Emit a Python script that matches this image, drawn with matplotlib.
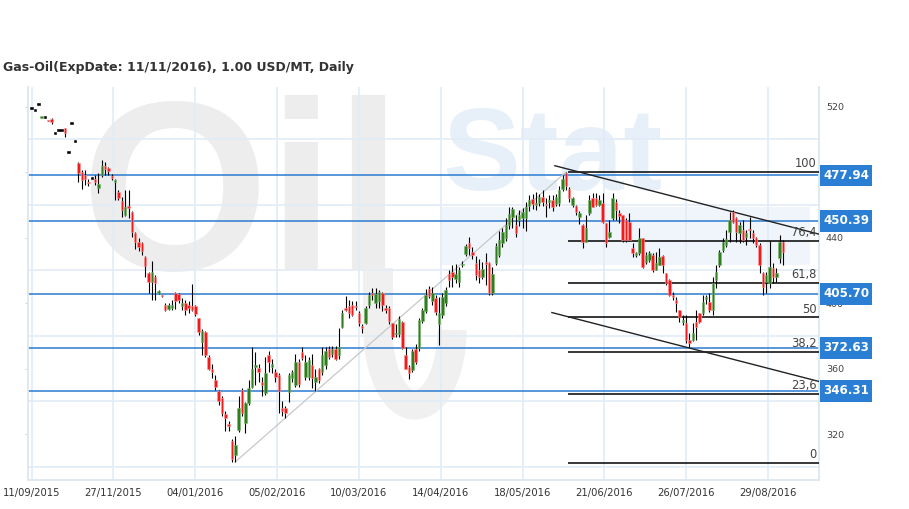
import matplotlib
matplotlib.use('Agg')
import matplotlib.pyplot as plt
from matplotlib.patches import Rectangle, Arc
import matplotlib.transforms as mtransforms

# ---------------- data ----------------
opens = [519, 518, 521.6, 513.2, 513.5, 511.8, 512.5, 504, 506, 505.5,
         506.8, 492.5, 510.2, 499, 485.8, 480.3, 478.5, 474.2, 476.2, 475.5,
         470, 478.3, 484, 482.5, 477.5, 474, 468, 462.6, 453.8, 459.5,
         455.8, 442.6, 437, 436.5, 428.4, 418.6, 413, 416.2, 406.2, 404.6,
         398.6, 396.5, 397, 406, 405.5, 398, 400, 399, 398.5, 398,
         390.7, 376, 382.5, 367, 360, 353, 346, 342, 332, 326,
         316, 307, 322.5, 347, 326.5, 339, 349, 361, 360.5, 352,
         345, 368, 361, 358, 356, 336, 335.7, 345.8, 354, 350,
         364, 370.3, 355, 355, 362, 352, 360, 358, 362, 372,
         369, 372, 368, 385.6, 397, 398, 398.8, 398, 394, 386,
         388, 398.8, 406, 400, 401, 406, 397, 397, 387.6, 381,
         381, 388.7, 368, 361, 359, 372, 372.3, 389, 395, 408.5,
         401, 403, 387, 393, 400, 418, 419, 415, 413, 423,
         430, 436.5, 431, 424.5, 420, 416, 425, 424.3, 406, 424.6,
         429.6, 436.5, 439.6, 447.7, 452.7, 447.7, 450.7, 452, 452, 459,
         463.7, 460, 461, 464.7, 460.5, 462, 462.7, 460.7, 461, 469.5,
         479.3, 469.5, 460, 459, 452.8, 447.7, 437.5, 454.9, 464, 464,
         460, 460.9, 448.7, 440.5, 451.8, 462, 454.9, 453.8, 450.8, 449.7,
         433.5, 429.4, 430.4, 439.5, 425.3, 426.3, 429.4, 420.3, 423.3, 428.9,
         418.2, 414.1, 405, 401.9, 395.5, 388.6, 388, 377.4, 377.4, 388.6,
         393.7, 393.7, 402.5, 400.9, 395.8, 414.1, 423.3, 432.4, 435.5, 443.6,
         455.8, 451.8, 442.6, 444.7, 440.5, 445, 443, 439.6, 435.5, 418.2,
         413, 412.1, 421.3, 416.1, 427.4, 437.5]
highs = [519, 518, 521.6, 513.8, 513.5, 511.8, 512.8, 504, 506, 505.5,
         507, 492.5, 510.2, 499, 486, 481.3, 481, 476, 476.2, 478,
         479.3, 487.4, 486, 483, 479, 475.5, 469, 465, 469, 469,
         456, 443.6, 440, 437, 429, 419, 425.5, 417, 408, 405,
         400, 400, 402, 406.5, 406, 403, 402, 401, 411.5, 399,
         391, 384, 383, 368, 363, 356, 347, 343, 334, 328,
         317, 319, 343, 348, 339.5, 353, 373, 370, 363, 355,
         367, 371, 366, 360, 357, 340, 337, 357, 359, 369,
         366, 373.3, 368, 367, 369, 360, 360.5, 373, 373, 374,
         374, 374, 385, 395.7, 404.3, 402, 401, 401, 395, 387,
         398, 406.5, 409, 409, 408, 407, 399, 398, 388, 387,
         392, 389, 373, 362, 372, 375, 391, 397, 408.5, 410.5,
         410, 405, 404, 406, 410, 420, 423, 424, 422, 426,
         436, 440.5, 434, 429, 427, 425, 430.5, 425, 422, 436.5,
         444, 446, 452, 458.7, 458.7, 453.7, 456.7, 458, 461.7, 466,
         466.7, 467.7, 466.7, 469, 464, 466, 466, 466.7, 471.7, 478,
         480, 471, 465, 460, 456, 448, 453.8, 466, 467.1, 467,
         466, 467, 449, 450.8, 467, 463.5, 457, 454, 452, 455,
         436.5, 431, 445.6, 440, 431, 432, 430.5, 431.4, 433.5, 429.5,
         418.5, 415, 406.9, 403.9, 395.8, 392.7, 392.7, 381.5, 387.6, 395.8,
         394, 404.9, 405, 406, 416.1, 423.3, 432.4, 439.6, 444.7, 455.8,
         456.9, 452.8, 449.7, 450.8, 444.6, 452.8, 444.7, 440.5, 436.5, 419.2,
         419.2, 438, 424.3, 421.3, 441.6, 438.5]
lows = [519, 518, 521.6, 513.2, 513.5, 511.2, 509.5, 504, 506, 505.5,
        501.3, 492.5, 510.2, 499, 474.2, 469.7, 472, 471.7, 476.2, 472,
        467, 477, 478, 478, 475, 463, 463, 452.8, 453, 452,
        440.5, 432.8, 432, 429.4, 416.2, 406, 402, 402, 405.5, 404,
        395, 395.5, 396, 396.5, 400, 396, 393, 394, 395, 392,
        380.5, 368, 367, 359, 354, 347, 337.7, 331, 322, 322,
        303, 303, 321, 331, 320.5, 338, 348, 350, 352, 343,
        344, 358, 357, 352, 332.6, 331, 330, 339.7, 352, 349,
        349, 365, 353, 353, 348, 346, 351, 356, 360, 366,
        367, 365, 366, 385, 395, 391, 392, 396, 386, 382,
        387, 397, 402, 397, 397, 395, 394, 387, 378, 379,
        379, 372, 359.5, 353.5, 358, 363, 371, 388, 394, 403,
        399, 393, 374.4, 391, 398, 410, 410, 412, 410, 422,
        429, 429.6, 427, 414, 412, 415, 411, 405, 405, 423,
        428, 434, 438, 445, 446, 440.5, 447, 446, 444, 456,
        457.7, 456.7, 459, 459, 452.7, 458, 456, 459, 459.5, 468.5,
        469, 462, 458.5, 454, 448, 433.5, 437, 453.8, 458.5, 459.5,
        459.5, 448.7, 434.4, 440, 451, 450.8, 448.7, 437.5, 437.5, 438,
        428.4, 428, 429.4, 421.3, 424, 425, 419.2, 420, 423, 418.2,
        411, 404.5, 401.9, 394.7, 388.6, 386.6, 375.4, 373.3, 377, 377.4,
        388, 392.7, 399.5, 394.7, 392.7, 409, 422.2, 431.4, 434, 437.5,
        449, 437.5, 436.5, 437.5, 435.5, 439.6, 436.5, 434.4, 418.2, 404.9,
        406, 409, 412.1, 413, 424.3, 423.3]
closes = [519, 518, 521.6, 513.8, 513.5, 511.2, 510.7, 504, 506, 505.5,
          503.7, 492.5, 510.2, 499, 479.3, 475.2, 476, 473.2, 476.2, 474,
          473, 483.8, 482, 480.5, 476.5, 474.5, 464, 456.9, 458.5, 458,
          443.6, 437.5, 434.5, 431.8, 422.5, 413, 419.2, 412.1, 407, 404.2,
          396, 398.6, 399, 401.5, 402, 400, 396, 397, 396, 393.5,
          382.5, 383, 368.3, 360, 358, 349, 340, 332.6, 330, 325,
          304.5, 313, 335.7, 332.6, 338.7, 348, 360, 361.5, 358, 350,
          357, 364, 363, 355, 346, 334, 332.6, 356, 358, 364,
          350.5, 366.3, 364, 365, 354, 355, 353, 368.5, 371, 367,
          372, 366, 373, 393.7, 396, 394, 392.7, 397.5, 387.7, 384.8,
          397, 405, 405, 405.5, 406.5, 399, 395.5, 389, 379.5, 382,
          390, 372.3, 360, 357, 371, 364, 389.7, 395.5, 405, 404.5,
          406, 394.3, 394, 403.5, 408, 414, 416, 418, 420, 423.5,
          434.6, 433.4, 429.6, 417.2, 416, 421, 424, 406, 418, 434.6,
          438.6, 443.5, 447.7, 454.7, 457.7, 442.6, 453.7, 455.7, 458.7, 462.7,
          460.7, 461, 464.7, 461.7, 459.7, 463, 458.7, 464.7, 469, 476,
          471.5, 464, 464, 455.8, 454.9, 437.5, 445.6, 463, 458.9, 460,
          463, 449.7, 436.5, 443.6, 464, 456.9, 452.9, 438.5, 438.5, 438.5,
          430.4, 430.4, 439.5, 422.3, 429.4, 430.4, 420.3, 424.3, 428.4, 423.3,
          412.1, 404.9, 404, 400, 391.7, 389.2, 377.4, 375.5, 381.5, 385.6,
          388.6, 400.9, 403, 395.8, 412.1, 419.2, 431.4, 437.5, 439, 450.8,
          449.7, 443.6, 447.7, 438.5, 442.6, 444.5, 439.6, 435.5, 423.3, 410,
          417.2, 422.3, 416.1, 418.2, 437.5, 431.4]

date_labels = ['11/09/2015', '27/11/2015', '04/01/2016', '05/02/2016', '10/03/2016',
               '14/04/2016', '18/05/2016', '21/06/2016', '26/07/2016', '29/08/2016']
date_positions = [0, 24.5, 49, 73.5, 98, 122.5, 147, 171.5, 196, 220.5]
y_ticks = [320, 360, 400, 440, 480, 520]
y_tick_labels = ['320', '360', '400', '440', '', '520']   # 480 is hidden by its box
grid_y = [300, 340, 380, 420, 460, 500]
price_levels = [477.94, 450.39, 405.70, 372.63, 346.31]
fib_high = 479.9
fib_low = 302.5
fib_pcts = [100, 76.4, 61.8, 50, 38.2, 23.6, 0]
fib_labels = ['100', '76,4', '61,8', '50', '38,2', '23,6', '0']
fib_start = 160.6
upper_trend_x = [156.7, 235.6]
upper_trend_y = [483.9, 442.2]
lower_trend_x = [155.8, 235.8]
lower_trend_y = [394.2, 352.1]
swing_x = [61, 160]
swing_y = [303, 480]
title = 'Gas-Oil(ExpDate: 11/11/2016), 1.00 USD/MT, Daily'

# ---------------- figure ----------------
W, H = 909, 509
fig = plt.figure(figsize=(W / 100, H / 100), dpi=100)
fig.patch.set_facecolor('white')
ax = fig.add_axes([28 / W, 29 / H, 791 / W, 393 / H])
ax.set_xlim(-1.1, 235.8)
ax.set_ylim(291.9, 532.0)

# pixel transform (origin top-left) for the watermark
pix = mtransforms.Affine2D().scale(1 / W, -1 / H).translate(0, 1) + fig.transFigure

# watermark
ax.text(80, 270, 'Oil', transform=pix, fontsize=174,
        family='Liberation Sans', weight='bold', color='#ededed',
        ha='left', va='baseline', zorder=0.2)
ax.add_patch(Rectangle((363, 268), 30, 62, transform=pix, facecolor='#f0f0f0',
                       edgecolor='none', zorder=0.2))
ax.add_patch(Arc((415, 330), 74, 150, theta1=0, theta2=180, transform=pix,
                 color='#f0f0f0', lw=21, zorder=0.2))
ax.text(443, 190, 'Stat', transform=pix, fontsize=84,
        family='Liberation Sans', weight='bold', color='#e7f0f9',
        ha='left', va='baseline', zorder=0.2)
ax.add_patch(Rectangle((440, 207), 370, 58, transform=pix, facecolor='#f0f5fb',
                       edgecolor='none', zorder=0.1))

# grid
for gx in date_positions:
    ax.axvline(gx, color='#e2ecf6', lw=1.2, zorder=1)
for gy in grid_y:
    ax.axhline(gy, color='#e2ecf6', lw=1.2, zorder=1)

# horizontal price levels
for lv in price_levels:
    ax.axhline(lv, color='#2a7bd1', lw=1.1, zorder=2.5)

# fibonacci levels
for p, lab in zip(fib_pcts, fib_labels):
    v = fib_low + (fib_high - fib_low) * p / 100.0
    ax.plot([fib_start, 235.8], [v, v], color='black', lw=1.1, zorder=3,
            solid_capstyle='butt')
    ax.text(235.2, v + 3.0, lab, ha='right', va='baseline', fontsize=8.3,
            color='#444444', zorder=3.5)

# trend lines
ax.plot(swing_x, swing_y, color='#c8c8c8', lw=0.9, zorder=2.6)
ax.plot(upper_trend_x, upper_trend_y, color='#222222', lw=1.0, zorder=3)
ax.plot(lower_trend_x, lower_trend_y, color='#222222', lw=1.0, zorder=3)

# candles
xs = list(range(len(closes)))
ax.vlines(xs, lows, highs, color='black', lw=0.8, zorder=3.6)
bottoms, heights, faces, edges = [], [], [], []
for o, c in zip(opens, closes):
    if c > o:
        faces.append('#2f7d1f'); edges.append('#7fb870')
        bottoms.append(o); heights.append(max(c - o, 0.9))
    elif c < o:
        faces.append('#f21a1a'); edges.append('#ff9a9a')
        bottoms.append(c); heights.append(max(o - c, 0.9))
    else:
        faces.append('black'); edges.append('black')
        bottoms.append(o - 0.6); heights.append(1.2)
ax.bar(xs, heights, bottom=bottoms, width=0.75, color=faces,
       edgecolor=edges, linewidth=0.4, zorder=4)

# price boxes at right
trans = mtransforms.blended_transform_factory(ax.transAxes, ax.transData)
box_h = 13.4
for lv in price_levels:
    ax.add_patch(Rectangle((1.0013, lv - box_h / 2), 0.0657, box_h, transform=trans,
                           facecolor='#2a7fd4', edgecolor='none', clip_on=False,
                           zorder=6))
    ax.text(1.0342, lv, f'{lv:.2f}', transform=trans, ha='center', va='center',
            fontsize=8.6, weight='bold', color='white', zorder=7, clip_on=False)

# axes styling
for side in ['left', 'right', 'bottom']:
    ax.spines[side].set_color('#dce7f2')
    ax.spines[side].set_linewidth(1.3)
ax.spines['top'].set_visible(False)
ax.set_yticks(y_ticks)
ax.set_yticklabels(y_tick_labels)
ax.tick_params(axis='y', left=True, right=False, labelleft=False, labelright=True,
               length=2, color='#c8d8e8', labelsize=6.8, labelcolor='#444444', pad=3)
ax.set_xticks(date_positions)
ax.set_xticklabels(date_labels)
ax.tick_params(axis='x', length=0, labelsize=7.2, labelcolor='#333333', pad=5.5)

fig.text(3 / W, 1 - 68 / H, title, ha='left', va='center', fontsize=9,
         weight='bold', color='#333333')

fig.savefig('out.png', dpi=100, facecolor='white')
